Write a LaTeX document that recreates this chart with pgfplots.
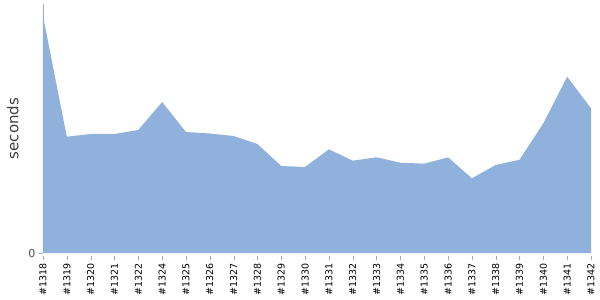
\documentclass[border=0pt]{standalone}
\usepackage{pgfplots}
\pgfplotsset{compat=1.18}
\usepackage{fontspec}
\setmainfont{DejaVu Sans}
\definecolor{areablue}{HTML}{8FB1DB}
\definecolor{axgray}{HTML}{AAAAAA}
\begin{document}
\begin{tikzpicture}
\begin{axis}[
  scale only axis, width=548pt, height=249pt,
  xmin=0, xmax=23, ymin=0, ymax=249,
  axis x line*=bottom, axis y line*=left,
  x axis line style={draw=none},
  y axis line style={draw=axgray, line width=0.8pt},
  xtick={0,...,23},
  xticklabels={\#1318,\#1319,\#1320,\#1321,\#1322,\#1324,\#1325,\#1326,\#1327,\#1328,\#1329,\#1330,\#1331,\#1332,\#1333,\#1334,\#1335,\#1336,\#1337,\#1338,\#1339,\#1340,\#1341,\#1342},
  x tick label style={rotate=90, anchor=east, font=\fontsize{9.5}{10}\selectfont, text=black, xshift=-3pt},
  xtick style={draw=axgray, yshift=-3pt},
  ytick={0},
  ytick style={draw=axgray},
  y tick label style={font=\fontsize{11}{11}\selectfont, text=black!70},
  major tick length=4pt, tick align=outside,
  /pgf/number format/assume math mode=true,
  ylabel={seconds},
  ylabel style={font=\fontsize{15}{15}\selectfont, text=black!75, yshift=3pt},
]
\addplot[fill=areablue, draw=none] coordinates {
(0,237) (1,116.3) (2,119) (3,119) (4,123) (5,151) (6,121) (7,119.5) (8,117)
(9,109) (10,87) (11,86) (12,103.7) (13,92.3) (14,95.7) (15,90.3) (16,89.3)
(17,95.7) (18,74.7) (19,88) (20,93.3) (21,129.7) (22,176.3) (23,144.7)
} \closedcycle;
\end{axis}
\pgfresetboundingbox
\path[use as bounding box] (current axis.south west) ++(-43pt,-47pt) rectangle ([shift={(9pt,4pt)}]current axis.north east);
\end{tikzpicture}
\end{document}
